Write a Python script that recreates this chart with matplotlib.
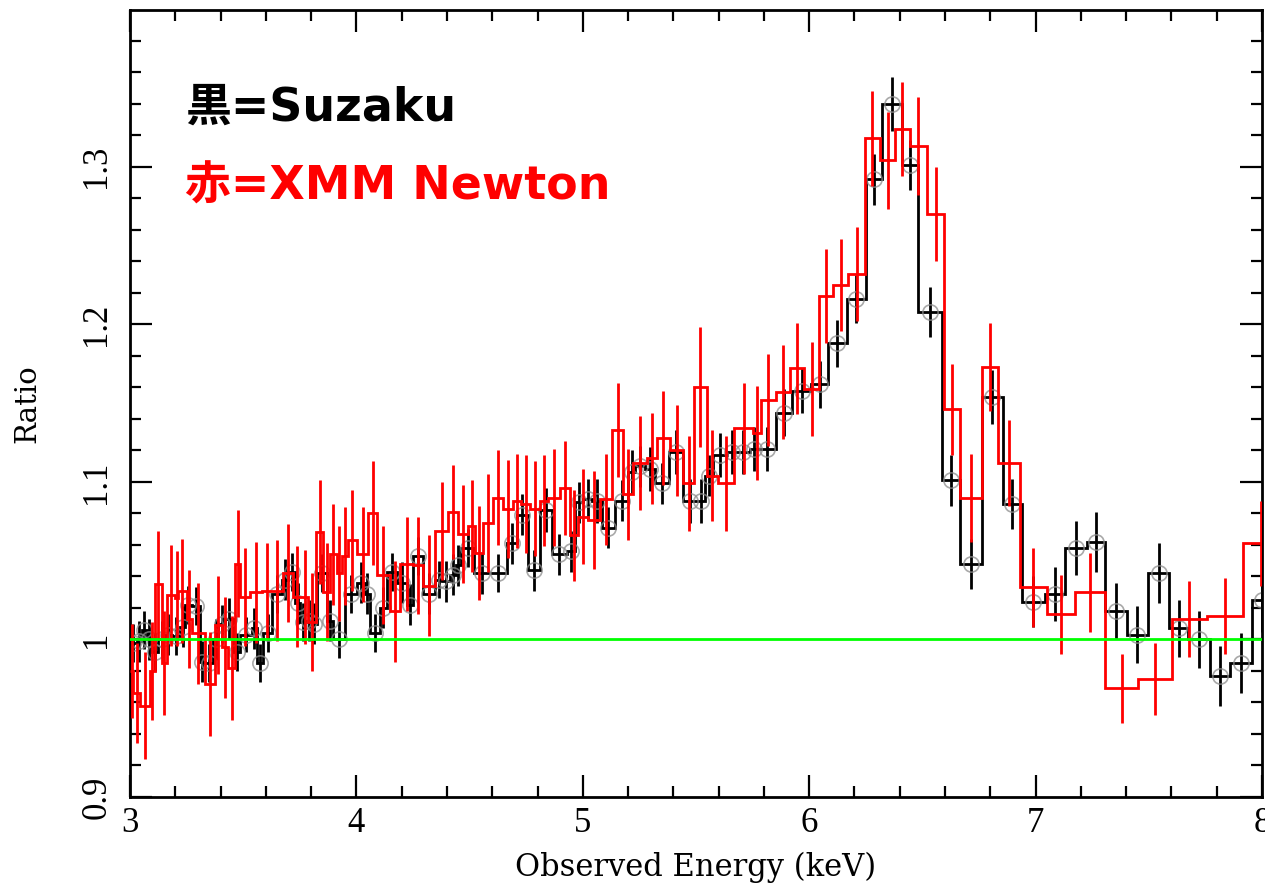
import matplotlib
matplotlib.use("Agg")
import matplotlib.pyplot as plt
import numpy as np
from matplotlib.ticker import MultipleLocator, FuncFormatter

# Suzaku ratio spectrum (bin edges in keV, data/model ratio, 1-sigma error)
suzaku_edges = [
    3.000, 3.030, 3.052, 3.074, 3.096, 3.125, 3.155, 3.184, 3.221, 3.243,
    3.272, 3.309, 3.331, 3.368, 3.390, 3.420, 3.456, 3.486, 3.537, 3.560,
    3.589, 3.626, 3.670, 3.700, 3.729, 3.751, 3.780, 3.800, 3.825, 3.869,
    3.898, 3.950, 4.001, 4.038, 4.060, 4.104, 4.134, 4.178, 4.222, 4.251,
    4.296, 4.347, 4.380, 4.413, 4.439, 4.462, 4.521, 4.590, 4.664, 4.708,
    4.757, 4.811, 4.863, 4.929, 4.966, 5.002, 5.040, 5.083, 5.142, 5.201,
    5.230, 5.275, 5.319, 5.382, 5.444, 5.503, 5.540, 5.574, 5.636, 5.680,
    5.739, 5.775, 5.852, 5.922, 6.010, 6.081, 6.165, 6.249, 6.320, 6.408,
    6.482, 6.585, 6.666, 6.762, 6.855, 6.938, 7.041, 7.130, 7.226, 7.307,
    7.402, 7.498, 7.590, 7.674, 7.770, 7.858, 7.954, 8.050,
]
suzaku_ratio = [
    0.998, 0.999, 1.006, 1.000, 0.992, 1.000, 1.003, 1.002, 1.008, 1.022,
    1.021, 0.986, 0.985, 1.000, 1.010, 1.013, 0.992, 1.003, 1.007, 0.985,
    1.004, 1.029, 1.038, 1.043, 1.023, 1.011, 1.012, 1.010, 1.042, 1.012,
    1.000, 1.029, 1.036, 1.029, 1.004, 1.020, 1.043, 1.036, 1.022, 1.053,
    1.029, 1.038, 1.037, 1.041, 1.047, 1.058, 1.042, 1.042, 1.061, 1.079,
    1.044, 1.082, 1.054, 1.056, 1.087, 1.089, 1.088, 1.071, 1.088, 1.106,
    1.110, 1.108, 1.099, 1.119, 1.088, 1.088, 1.104, 1.117, 1.119, 1.119,
    1.121, 1.121, 1.144, 1.158, 1.162, 1.188, 1.216, 1.292, 1.340, 1.301,
    1.208, 1.101, 1.048, 1.154, 1.086, 1.024, 1.029, 1.058, 1.062, 1.018,
    1.003, 1.042, 1.007, 1.000, 0.977, 0.985, 1.025,
]
suzaku_err = [
    0.012, 0.013, 0.012, 0.013, 0.012, 0.012, 0.013, 0.012, 0.013, 0.012,
    0.012, 0.013, 0.012, 0.013, 0.012, 0.013, 0.012, 0.011, 0.013, 0.012,
    0.012, 0.012, 0.013, 0.012, 0.013, 0.012, 0.013, 0.013, 0.012, 0.013,
    0.012, 0.012, 0.013, 0.013, 0.012, 0.013, 0.012, 0.013, 0.013, 0.012,
    0.013, 0.012, 0.013, 0.013, 0.013, 0.012, 0.013, 0.012, 0.013, 0.013,
    0.013, 0.014, 0.013, 0.013, 0.013, 0.013, 0.014, 0.013, 0.013, 0.014,
    0.013, 0.014, 0.013, 0.014, 0.014, 0.014, 0.013, 0.014, 0.014, 0.014,
    0.014, 0.014, 0.015, 0.014, 0.015, 0.015, 0.015, 0.016, 0.017, 0.016,
    0.016, 0.016, 0.016, 0.017, 0.016, 0.016, 0.017, 0.017, 0.019, 0.018,
    0.018, 0.019, 0.018, 0.018, 0.019, 0.019, 0.020,
]

# XMM-Newton ratio spectrum
xmm_edges = [
    3.000, 3.015, 3.044, 3.088, 3.110, 3.140, 3.162, 3.199, 3.213, 3.250,
    3.272, 3.331, 3.375, 3.405, 3.434, 3.464, 3.486, 3.530, 3.582, 3.626,
    3.677, 3.721, 3.758, 3.788, 3.822, 3.854, 3.883, 3.913, 3.935, 3.964,
    4.001, 4.053, 4.090, 4.148, 4.193, 4.251, 4.296, 4.347, 4.406, 4.447,
    4.494, 4.524, 4.561, 4.605, 4.649, 4.693, 4.727, 4.767, 4.811, 4.848,
    4.899, 4.943, 4.980, 5.024, 5.076, 5.128, 5.179, 5.223, 5.282, 5.326,
    5.385, 5.444, 5.491, 5.547, 5.598, 5.668, 5.753, 5.787, 5.852, 5.915,
    5.978, 6.043, 6.106, 6.173, 6.246, 6.313, 6.379, 6.445, 6.519, 6.597,
    6.666, 6.762, 6.836, 6.931, 7.049, 7.174, 7.307, 7.454, 7.601, 7.756,
    7.915, 8.080,
]
xmm_ratio = [
    0.980, 0.966, 0.958, 0.980, 1.035, 0.985, 1.028, 1.026, 1.031, 1.013,
    1.004, 0.972, 1.009, 0.995, 0.982, 1.048, 1.027, 1.030, 1.031, 1.031,
    1.042, 1.027, 1.027, 1.011, 1.068, 1.030, 1.054, 1.042, 1.053, 1.063,
    1.054, 1.080, 1.041, 1.018, 1.048, 1.047, 1.034, 1.069, 1.081, 1.067,
    1.072, 1.055, 1.074, 1.090, 1.083, 1.088, 1.086, 1.083, 1.088, 1.090,
    1.096, 1.066, 1.078, 1.076, 1.089, 1.133, 1.092, 1.112, 1.115, 1.128,
    1.120, 1.099, 1.160, 1.104, 1.099, 1.134, 1.131, 1.152, 1.157, 1.172,
    1.159, 1.218, 1.225, 1.232, 1.318, 1.304, 1.324, 1.313, 1.270, 1.146,
    1.090, 1.173, 1.112, 1.033, 1.016, 1.030, 0.969, 0.975, 1.013, 1.015,
    1.061,
]
xmm_err = [
    0.030, 0.032, 0.034, 0.031, 0.034, 0.033, 0.032, 0.030, 0.033, 0.031,
    0.032, 0.033, 0.031, 0.032, 0.033, 0.034, 0.031, 0.032, 0.030, 0.032,
    0.031, 0.032, 0.030, 0.031, 0.033, 0.031, 0.032, 0.030, 0.031, 0.032,
    0.030, 0.033, 0.031, 0.032, 0.030, 0.031, 0.032, 0.031, 0.030, 0.031,
    0.029, 0.030, 0.031, 0.030, 0.031, 0.030, 0.031, 0.030, 0.029, 0.031,
    0.030, 0.029, 0.030, 0.031, 0.029, 0.030, 0.029, 0.030, 0.029, 0.030,
    0.029, 0.030, 0.038, 0.029, 0.030, 0.029, 0.030, 0.029, 0.030, 0.029,
    0.030, 0.030, 0.029, 0.030, 0.030, 0.031, 0.030, 0.031, 0.030, 0.029,
    0.028, 0.028, 0.027, 0.025, 0.025, 0.025, 0.022, 0.023, 0.024, 0.024,
    0.027,
]

fig = plt.figure(figsize=(12.65, 8.85), dpi=100)
ax = fig.add_axes([130 / 1265, 88 / 885, 1132 / 1265, 787 / 885])

tick_font = ["Liberation Serif", "DejaVu Serif"]
label_font = ["DejaVu Serif"]


def centers(edges):
    e = np.asarray(edges)
    return 0.5 * (e[:-1] + e[1:])


# Suzaku: step line, error bars and open circle markers
sx = centers(suzaku_edges)
ax.stairs(suzaku_ratio, suzaku_edges, baseline=None, color="black", lw=2.0, zorder=2)
ax.errorbar(sx, suzaku_ratio, yerr=suzaku_err, fmt="none", ecolor="black",
            elinewidth=2.0, capsize=0, zorder=2)
ax.plot(sx, suzaku_ratio, ls="none", marker="o", ms=11, mfc="none",
        mec="#8c8c8c", mew=1.2, alpha=0.75, zorder=2)

# XMM-Newton: step line and error bars
xx = centers(xmm_edges)
ax.stairs(xmm_ratio, xmm_edges, baseline=None, color="#ff0000", lw=2.0, zorder=3)
ax.errorbar(xx, xmm_ratio, yerr=xmm_err, fmt="none", ecolor="#ff0000",
            elinewidth=2.0, capsize=0, zorder=3)

# unity reference
ax.axhline(1.0, color="#00ff00", lw=2.0, zorder=4)

ax.set_xlim(3, 8)
ax.set_ylim(0.9, 1.3995)

ax.xaxis.set_major_locator(MultipleLocator(1))
ax.xaxis.set_minor_locator(MultipleLocator(0.2))
ax.yaxis.set_major_locator(MultipleLocator(0.1))
ax.yaxis.set_minor_locator(MultipleLocator(0.02))
ax.yaxis.set_major_formatter(FuncFormatter(lambda v, p: f"{v:g}"))
ax.xaxis.set_major_formatter(FuncFormatter(lambda v, p: f"{v:g}"))

ax.tick_params(which="both", direction="in", top=True, right=True, width=1.6,
               colors="black")
ax.tick_params(which="major", length=16)
ax.tick_params(which="minor", length=8)
ax.tick_params(axis="x", labelsize=25, pad=7)
ax.tick_params(axis="y", labelsize=25, pad=12, labelrotation=90)
for lab in ax.get_yticklabels():
    lab.set_verticalalignment("center")
for lab in ax.get_xticklabels() + ax.get_yticklabels():
    lab.set_family(tick_font)

for sp in ax.spines.values():
    sp.set_linewidth(2.0)

ax.set_xlabel("Observed Energy (keV)", fontsize=22, family=label_font)
ax.xaxis.set_label_coords(0.5, (797 - 852) / 787)
ax.xaxis.label.set_verticalalignment("top")
ax.set_ylabel("Ratio", fontsize=21, family=label_font)
ax.yaxis.set_label_coords((41 - 130) / 1132, 0.5)

jp = ["DejaVu Sans", "Noto Sans CJK JP"]
fig.text(185 / 1265, 1 - 108 / 885, "黒=Suzaku", color="black", fontsize=33,
         fontweight="bold", family=jp, va="center", ha="left")
fig.text(185 / 1265, 1 - 187 / 885, "赤=XMM Newton", color="#ff0000", fontsize=33,
         fontweight="bold", family=jp, va="center", ha="left")

fig.savefig("out.png", dpi=100)
